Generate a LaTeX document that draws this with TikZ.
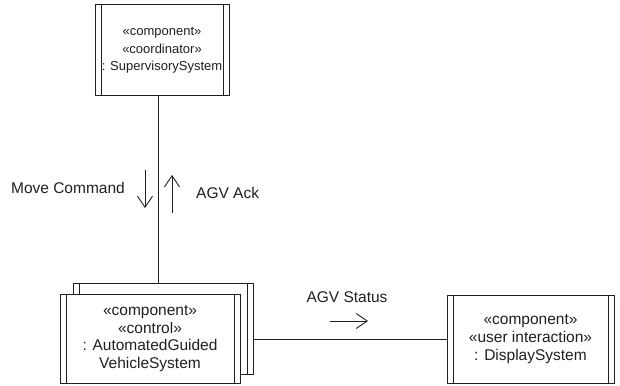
\documentclass[tikz,border=0pt]{standalone}
\usepackage{fontspec}
\setmainfont{Liberation Sans}
\usetikzlibrary{positioning, arrows.meta}
\definecolor{umlline}{RGB}{35, 31, 32}

\begin{document}
\begin{tikzpicture}[
  x=1pt, y=-1pt,
  every node/.style={font=\fontsize{15.5}{17.7}\selectfont, text=umlline},
  compbox/.style={
    rectangle, draw=umlline, line width=1pt, fill=white,
    align=center, inner sep=0pt,
    path picture={
      \draw[umlline, line width=1pt]
        ([xshift=6pt]path picture bounding box.north west) --
        ([xshift=6pt]path picture bounding box.south west)
        ([xshift=-6pt]path picture bounding box.north east) --
        ([xshift=-6pt]path picture bounding box.south east);
    }
  },
  msgarrow/.style={
    draw=umlline, line width=0.9pt,
    -{Straight Barb[length=11pt, width=15pt]}
  },
  msglabel/.style={inner sep=2pt}
]
\useasboundingbox (0,0) rectangle (620,385);

% Supervisory system
\node[compbox, minimum width=134pt, minimum height=91pt,
      font=\fontsize{13}{17.5}\selectfont]
  (super) at (162,50.5) {%
    «component»\\
    «coordinator»\\
    : SupervisorySystem};

% AGV system (multiple instances)
\node[compbox, minimum width=180pt, minimum height=91pt]
  (agvback) at (163,328.5) {};
\node[compbox, minimum width=180pt, minimum height=89pt]
  (agv) at (150,338.5) {%
    «component»\\
    «control»\\
    : AutomatedGuided\\
    VehicleSystem};

% Display system
\node[compbox, minimum width=167pt, minimum height=88pt]
  (display) at (530.5,339) {%
    «component»\\
    «user interaction»\\
    : DisplaySystem};

% Links
\draw[umlline, line width=1pt]
  ([xshift=-4pt]super.south) -- ([xshift=-4pt]super.south |- agvback.north);
\draw[umlline, line width=1pt]
  (agvback.east |- display.west) -- (display.west);

% Messages
\coordinate (movetail) at (145,170);
\coordinate (movehead) at (145,208);
\coordinate (acktail) at (172,213);
\coordinate (ackhead) at (172,175);
\coordinate (statustail) at (330,321);
\coordinate (statushead) at (368,321);

\draw[msgarrow] (movetail) -- (movehead);
\draw[msgarrow] (acktail) -- (ackhead);
\draw[msgarrow] (statustail) -- (statushead);

\node[msglabel, anchor=east] (movelabel) at (127,188) {Move Command};
\node[msglabel, anchor=west] (acklabel) at (194,193) {AGV Ack};
\node[msglabel] (statuslabel) at (347,297) {AGV Status};

\end{tikzpicture}
\end{document}
